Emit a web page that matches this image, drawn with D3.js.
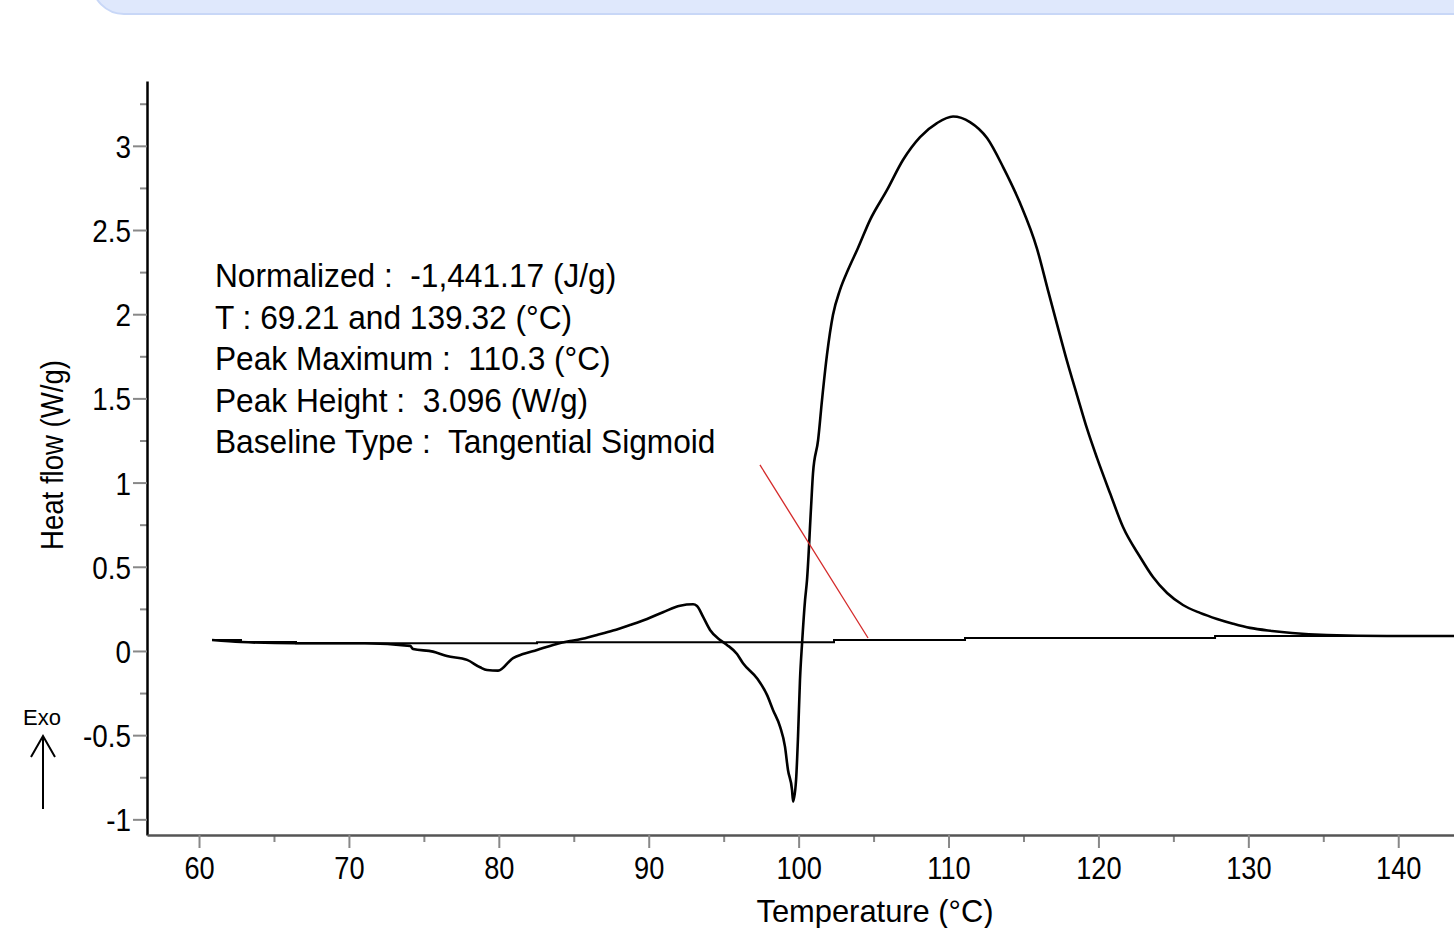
<!DOCTYPE html>
<html>
<head>
<meta charset="utf-8">
<script src="https://cdn.jsdelivr.net/npm/d3@7"></script>
<style>
  body { margin: 0; background: #fff; }
  text { font-family: "Liberation Sans", Arial, sans-serif; }
</style>
</head>
<body>
<div id="chart"></div>
<script>
// heat flow curve (°C, W/g)
const curveT = [60.87, 62.8, 66.47, 71.07, 74.08, 74.28, 75.61, 76.54, 77.88, 78.75, 79.21, 79.95, 80.95, 81.61,
  82.55, 83.62, 84.75, 85.42, 86.55, 87.62, 88.75, 89.89, 90.95, 92.09, 92.96, 93.22, 93.62, 94.09, 94.76,
  95.22, 95.89, 96.29, 97.22, 97.89, 98.29, 98.76, 99.09, 99.29, 99.56, 99.63, 99.83, 99.96, 100.09, 100.23,
  100.43, 100.56, 100.83, 100.96, 101.3, 101.56, 101.89, 102.29, 102.76, 103.29, 103.96, 104.76, 105.9, 106.96, 108.1,
  109.23, 110.3, 111.43, 112.57, 113.64, 114.77, 115.9, 116.64, 117.24, 117.91, 118.57, 119.24, 119.91,
  120.77, 121.64, 122.78, 123.64, 124.58, 125.64, 126.78, 127.91, 128.98, 130.11, 131.58, 132.91, 135.25,
  139.25, 143.72];
const curveH = [0.065, 0.053, 0.046, 0.046, 0.03, 0.012, -0.004, -0.03, -0.053, -0.097, -0.113, -0.117, -0.042, -0.018,
  0.006, 0.036, 0.059, 0.069, 0.095, 0.121, 0.154, 0.19, 0.23, 0.269, 0.277, 0.267, 0.204, 0.125, 0.065,
  0.036, -0.018, -0.073, -0.162, -0.261, -0.35, -0.449, -0.568, -0.707, -0.825, -0.895, -0.766, -0.509, -0.172, 0.046,
  0.303, 0.422, 0.855, 1.057, 1.253, 1.49, 1.758, 1.995, 2.144, 2.262, 2.393, 2.559, 2.738, 2.916, 3.052,
  3.135, 3.174, 3.141, 3.046, 2.874, 2.66, 2.39, 2.14, 1.94, 1.72, 1.52, 1.32, 1.145,
  0.938, 0.736, 0.558, 0.439, 0.344, 0.273, 0.226, 0.19, 0.162, 0.137, 0.119, 0.107, 0.095,
  0.089, 0.089];

// integration baseline (stepped)
const baseT = [60.87, 62.8, 66.47, 82.55, 102.36, 111.1, 127.78, 143.72];
const baseH = [0.065, 0.053, 0.046, 0.052, 0.065, 0.077, 0.089, 0.089];

// red tangent line
const tangentT = [97.42, 104.63];
const tangentH = [1.105, 0.077];

const xMajor = [60, 70, 80, 90, 100, 110, 120, 130, 140];
const xMinor = [65, 75, 85, 95, 105, 115, 125, 135];
const yMajor = [3, 2.5, 2, 1.5, 1, 0.5, 0, -0.5, -1];
const yMinor = [3.25, 2.75, 2.25, 1.75, 1.25, 0.75, 0.25, -0.25, -0.75];

const notes = [
  "Normalized :  -1,441.17 (J/g)",
  "T : 69.21 and 139.32 (°C)",
  "Peak Maximum :  110.3 (°C)",
  "Peak Height :  3.096 (W/g)",
  "Baseline Type :  Tangential Sigmoid"
];

const W = 1454, H = 928;
const plot = { left: 147, right: 1454, top: 81, bottom: 835 };
const squeeze = 0.87; // the original font is a narrower face

const svg = d3.select("#chart").append("svg")
  .attr("width", W).attr("height", H);

// light blue panel edge at the top
svg.append("rect")
  .attr("x", 92).attr("y", -60)
  .attr("width", 1420).attr("height", 74)
  .attr("rx", 32)
  .attr("fill", "#dfe8fc")
  .attr("stroke", "#c8d7f7")
  .attr("stroke-width", 2);

const x = d3.scaleLinear().domain([56.53, 143.72]).range([plot.left, plot.right]);
const y = d3.scaleLinear().domain([-1.093, 3.385]).range([plot.bottom, plot.top]);

svg.append("clipPath").attr("id", "clip")
  .append("rect")
  .attr("x", plot.left).attr("y", plot.top - 20)
  .attr("width", plot.right - plot.left).attr("height", plot.bottom - plot.top + 20);

// y axis
const yMinAxis = svg.append("g")
  .attr("transform", `translate(${plot.left},0)`)
  .call(d3.axisLeft(y).tickValues(yMinor).tickSize(7).tickFormat(""));
yMinAxis.select(".domain").remove();
yMinAxis.selectAll("line").attr("stroke", "#888").attr("stroke-width", 2);

const yAxis = svg.append("g")
  .attr("transform", `translate(${plot.left},0)`)
  .call(d3.axisLeft(y).tickValues(yMajor).tickSize(14).tickSizeOuter(0).tickPadding(1)
    .tickFormat(d => String(d)));
yAxis.select(".domain").attr("stroke", "#000").attr("stroke-width", 2.5);
yAxis.selectAll("line").attr("stroke", "#888").attr("stroke-width", 2);
yAxis.selectAll("text")
  .attr("font-family", null).style("font-size", "32px").attr("fill", "#000")
  .attr("dy", "0.36em")
  .attr("x", -16 / squeeze)
  .attr("transform", `scale(${squeeze},1)`);

// x axis
const xMinAxis = svg.append("g")
  .attr("transform", `translate(0,${plot.bottom})`)
  .call(d3.axisBottom(x).tickValues(xMinor).tickSize(7).tickFormat(""));
xMinAxis.select(".domain").remove();
xMinAxis.selectAll("line").attr("stroke", "#888").attr("stroke-width", 2);

const xAxis = svg.append("g")
  .attr("transform", `translate(0,${plot.bottom})`)
  .call(d3.axisBottom(x).tickValues(xMajor).tickSize(13).tickSizeOuter(0).tickPadding(8));
xAxis.select(".domain").attr("stroke", "#555").attr("stroke-width", 2.5);
xAxis.selectAll("line").attr("stroke", "#888").attr("stroke-width", 2);
xAxis.selectAll("text")
  .attr("font-family", null).style("font-size", "32px").attr("fill", "#000")
  .attr("transform", `scale(0.85,1)`);

// axis titles
svg.append("text")
  .attr("transform", `translate(875,922) scale(0.965,1)`)
  .attr("text-anchor", "middle")
  .style("font-size", "32px")
  .text("Temperature (°C)");

svg.append("text")
  .attr("transform", `translate(63,455) rotate(-90) scale(0.89,1)`)
  .attr("text-anchor", "middle")
  .style("font-size", "31px")
  .text("Heat flow (W/g)");

// Exo arrow
svg.append("text")
  .attr("x", 42).attr("y", 725)
  .attr("text-anchor", "middle")
  .style("font-size", "22px")
  .text("Exo");
svg.append("path")
  .attr("d", "M43,809 L43,736 M31,757 L43,736 L55,757")
  .attr("fill", "none").attr("stroke", "#000").attr("stroke-width", 2);

// lines
const g = svg.append("g").attr("clip-path", "url(#clip)");

g.append("path")
  .datum(d3.zip(baseT, baseH))
  .attr("d", d3.line().x(d => x(d[0])).y(d => y(d[1])).curve(d3.curveStepAfter))
  .attr("fill", "none").attr("stroke", "#000").attr("stroke-width", 2);

g.append("path")
  .datum(d3.zip(curveT, curveH))
  .attr("d", d3.line().x(d => x(d[0])).y(d => y(d[1])).curve(d3.curveMonotoneX))
  .attr("fill", "none").attr("stroke", "#000").attr("stroke-width", 2.6)
  .attr("stroke-linejoin", "round");

g.append("path")
  .datum(d3.zip(tangentT, tangentH))
  .attr("d", d3.line().x(d => x(d[0])).y(d => y(d[1])))
  .attr("fill", "none").attr("stroke", "#d42a2a").attr("stroke-width", 1.3);

// annotation block
svg.append("g").selectAll("text")
  .data(notes)
  .join("text")
  .attr("transform", (d, i) => `translate(215,${287 + i * 41.6}) scale(0.96,1)`)
  .style("font-size", "33px")
  .style("white-space", "pre")
  .text(d => d);
</script>
</body>
</html>
